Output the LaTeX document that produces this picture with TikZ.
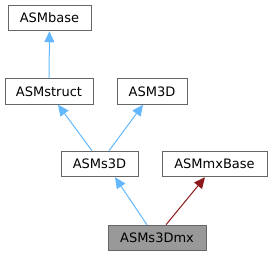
\documentclass[tikz,border=0pt]{standalone}
\usepackage{fontspec}
\setmainfont{DejaVu Sans}
\usepackage{xcolor}
\usetikzlibrary{arrows.meta, positioning}
\definecolor{edgeblue}{HTML}{63B8FF}
\definecolor{edgered}{HTML}{8B1A1A}
\definecolor{boxline}{HTML}{666666}
\tikzset{
    cls/.style={
        rectangle, minimum height=25.5pt, inner sep=0pt,
        text centered, draw=boxline, line width=1pt, fill=white,
        font=\fontsize{13}{15}\selectfont
    },
    current/.style={cls, fill=black!40},
    inherit/.style={line width=1pt, draw=edgeblue, -{Triangle[length=11pt, width=10pt, fill=edgeblue]}},
    inheritred/.style={line width=1pt, draw=edgered, -{Triangle[length=11pt, width=10pt, fill=edgered]}}
}
\begin{document}
\begin{tikzpicture}[x=1pt, y=-1pt]
    \useasboundingbox (0,0) rectangle (272,256);
    \node (base) [cls, minimum width=83pt] at (49.5,18) {ASMbase};
    \node (struct) [cls, minimum width=88pt] at (49,91.5) {ASMstruct};
    \node (asm3d) [cls, minimum width=70pt] at (152,91.5) {ASM3D};
    \node (s3d) [cls, minimum width=77pt] at (99.5,164) {ASMs3D};
    \node (mxbase) [cls, minimum width=105pt] at (214.5,164) {ASMmxBase};
    \node (s3dmx) [current, minimum width=98pt] at (157,238) {ASMs3Dmx};
    \draw [inherit] (struct) -- (base);
    \draw [inherit] ([xshift=-7.5pt]s3d.north) -- ([xshift=9pt]struct.south);
    \draw [inherit] ([xshift=9.5pt]s3d.north) -- ([xshift=-9pt]asm3d.south);
    \draw [inherit] ([xshift=-10pt]s3dmx.north) -- ([xshift=15.5pt]s3d.south);
    \draw [inheritred] ([xshift=9pt]s3dmx.north) -- ([xshift=-9.5pt]mxbase.south);
\end{tikzpicture}
\end{document}
